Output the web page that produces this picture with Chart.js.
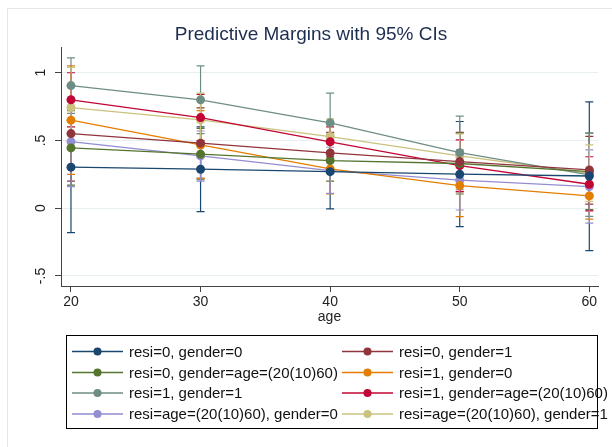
<!DOCTYPE html>
<html>
<head>
<meta charset="utf-8">
<script src="https://cdn.jsdelivr.net/npm/chart.js@4.4.1/dist/chart.umd.min.js"></script>
<style>
  html, body { margin: 0; padding: 0; background: #fff; }
  #wrap { width: 612px; height: 447px; position: relative; }
</style>
</head>
<body>
<div id="wrap"><canvas id="marginsChart"></canvas></div>
<script>
// age values on the x axis
const ages = [20, 30, 40, 50, 60];
const yTickValues = [-0.5, 0, 0.5, 1];
const yTickLabels = ["-.5", "0", ".5", "1"];

const seriesLabels = [
  "resi=0, gender=0",
  "resi=0, gender=1",
  "resi=0, gender=age=(20(10)60)",
  "resi=1, gender=0",
  "resi=1, gender=1",
  "resi=1, gender=age=(20(10)60)",
  "resi=age=(20(10)60), gender=0",
  "resi=age=(20(10)60), gender=1"
];
const seriesColors = ["#1a476f", "#90353b", "#55752f", "#e37e00", "#6e8e84", "#c10534", "#938dd2", "#cac27e"];

// predictive margins
const r0g0 = [0.303, 0.288, 0.27, 0.251, 0.238];
const r0g1 = [0.551, 0.48, 0.408, 0.344, 0.283];
const r0gAge = [0.445, 0.399, 0.352, 0.33, 0.27];
const r1g0 = [0.65, 0.467, 0.29, 0.167, 0.091];
const r1g1 = [0.905, 0.80, 0.63, 0.41, 0.246];
const r1gAge = [0.80, 0.669, 0.49, 0.315, 0.177];
const rAgeG0 = [0.492, 0.386, 0.278, 0.207, 0.16];
const rAgeG1 = [0.743, 0.652, 0.529, 0.386, 0.258];

// 95% CI lower / upper
const r0g0Lo = [-0.18, -0.025, -0.005, -0.136, -0.313];
const r0g0Hi = [0.79, 0.60, 0.545, 0.64, 0.785];
const r0g1Lo = [0.20, 0.22, 0.26, 0.12, 0.03];
const r0g1Hi = [0.90, 0.74, 0.56, 0.56, 0.53];
const r0gAgeLo = [0.17, 0.21, 0.20, 0.105, -0.01];
const r0gAgeHi = [0.72, 0.59, 0.51, 0.555, 0.554];
const r1g0Lo = [0.25, 0.22, 0.105, -0.062, -0.08];
const r1g0Hi = [1.05, 0.72, 0.475, 0.40, 0.26];
const r1g1Lo = [0.70, 0.55, 0.41, 0.14, -0.06];
const r1g1Hi = [1.11, 1.05, 0.85, 0.68, 0.554];
const r1gAgeLo = [0.60, 0.50, 0.38, 0.125, -0.02];
const r1gAgeHi = [1.0, 0.84, 0.60, 0.504, 0.38];
const rAgeG0Lo = [0.16, 0.20, 0.11, -0.013, -0.11];
const rAgeG0Hi = [0.82, 0.57, 0.45, 0.43, 0.43];
const rAgeG1Lo = [0.44, 0.45, 0.40, 0.22, 0.05];
const rAgeG1Hi = [1.04, 0.85, 0.66, 0.549, 0.467];

const means = [r0g0, r0g1, r0gAge, r1g0, r1g1, r1gAge, rAgeG0, rAgeG1];
const lows = [r0g0Lo, r0g1Lo, r0gAgeLo, r1g0Lo, r1g1Lo, r1gAgeLo, rAgeG0Lo, rAgeG1Lo];
const highs = [r0g0Hi, r0g1Hi, r0gAgeHi, r1g0Hi, r1g1Hi, r1gAgeHi, rAgeG0Hi, rAgeG1Hi];

const FONT = "'Liberation Sans', Arial, sans-serif";

const datasets = means.map((m, k) => ({
  label: seriesLabels[k],
  data: ages.map((a, i) => ({ x: a, y: m[i] })),
  ciLow: lows[k],
  ciHigh: highs[k],
  borderColor: seriesColors[k],
  backgroundColor: seriesColors[k],
  pointBackgroundColor: seriesColors[k],
  pointBorderWidth: 0,
  pointRadius: 4.5,
  borderWidth: 1.3,
  tension: 0
}));

// capped spikes for the confidence intervals
const ciBars = {
  id: "ciBars",
  beforeDatasetsDraw(chart) {
    const { ctx, scales: { x, y } } = chart;
    ctx.save();
    ctx.lineWidth = 1.2;
    chart.data.datasets.forEach(ds => {
      ctx.strokeStyle = ds.borderColor;
      ds.data.forEach((pt, i) => {
        const px = x.getPixelForValue(pt.x);
        const top = y.getPixelForValue(ds.ciHigh[i]);
        const bot = y.getPixelForValue(ds.ciLow[i]);
        ctx.beginPath();
        ctx.moveTo(px, top); ctx.lineTo(px, bot);
        ctx.moveTo(px - 4, top); ctx.lineTo(px + 4, top);
        ctx.moveTo(px - 4, bot); ctx.lineTo(px + 4, bot);
        ctx.stroke();
      });
    });
    ctx.restore();
  }
};

// outer frame, rotated y labels, boxed legend
const stataBits = {
  id: "stataBits",
  beforeDraw(chart) {
    const ctx = chart.ctx;
    ctx.save();
    ctx.strokeStyle = "#e4e8ea";
    ctx.lineWidth = 1;
    ctx.strokeRect(7.5, 8.5, 700, 700);
    ctx.restore();
  },
  afterDraw(chart) {
    const ctx = chart.ctx;
    const yScale = chart.scales.y;
    ctx.save();
    ctx.font = "14px " + FONT;
    ctx.fillStyle = "#222";
    ctx.textAlign = "center";
    ctx.textBaseline = "middle";
    yScale.ticks.forEach((t, i) => {
      const py = yScale.getPixelForTick(i);
      ctx.save();
      ctx.translate(41.5, py);
      ctx.rotate(-Math.PI / 2);
      ctx.fillText(yTickLabels[yTickValues.indexOf(t.value)], 0, 0);
      ctx.restore();
    });

    // legend
    ctx.strokeStyle = "#000";
    ctx.lineWidth = 1;
    ctx.strokeRect(66.5, 335.5, 531, 93);
    const colX = [72, 342];
    const rowY = [351.5, 372.5, 393, 414];
    ctx.textAlign = "left";
    ctx.font = "15px " + FONT;
    chart.data.datasets.forEach((ds, k) => {
      const lx = colX[k % 2];
      const ly = rowY[Math.floor(k / 2)];
      ctx.strokeStyle = ds.borderColor;
      ctx.lineWidth = 1.3;
      ctx.beginPath();
      ctx.moveTo(lx, ly); ctx.lineTo(lx + 51, ly);
      ctx.stroke();
      ctx.fillStyle = ds.borderColor;
      ctx.beginPath();
      ctx.arc(lx + 25.5, ly, 4, 0, Math.PI * 2);
      ctx.fill();
      ctx.fillStyle = "#111";
      ctx.fillText(ds.label, lx + 57, ly + 1);
    });
    ctx.restore();
  }
};

new Chart(document.getElementById("marginsChart"), {
  type: "line",
  data: { datasets },
  options: {
    responsive: true,
    maintainAspectRatio: false,
    animation: false,
    layout: { padding: { left: 24, right: 14, top: 0, bottom: 116 } },
    plugins: {
      legend: { display: false },
      tooltip: { enabled: false },
      title: {
        display: true,
        text: "Predictive Margins with 95% CIs",
        color: "#1c2d50",
        font: { family: FONT, size: 19, weight: "normal" },
        padding: { top: 23, bottom: 2 }
      }
    },
    scales: {
      x: {
        type: "linear",
        min: 19.23,
        max: 60.67,
        afterBuildTicks: s => { s.ticks = ages.map(v => ({ value: v })); },
        afterFit: s => { s.height = 45; },
        grid: { drawOnChartArea: false, drawTicks: true, tickLength: 6, tickColor: "#444" },
        border: { display: true, color: "#444", width: 1 },
        ticks: { color: "#222", font: { family: FONT, size: 14 }, padding: 2, maxRotation: 0 },
        title: { display: true, text: "age", color: "#222", font: { family: FONT, size: 14 }, padding: { top: 0, bottom: 5 } }
      },
      y: {
        type: "linear",
        min: -0.574,
        max: 1.184,
        afterBuildTicks: s => { s.ticks = yTickValues.map(v => ({ value: v })); },
        afterFit: s => { s.width = 37; },
        grid: { color: "#e8eff1", lineWidth: 1, drawTicks: true, tickLength: 6, tickColor: "#444" },
        border: { display: true, color: "#444", width: 1 },
        ticks: { display: false }
      }
    }
  },
  plugins: [ciBars, stataBits]
});
</script>
</body>
</html>
